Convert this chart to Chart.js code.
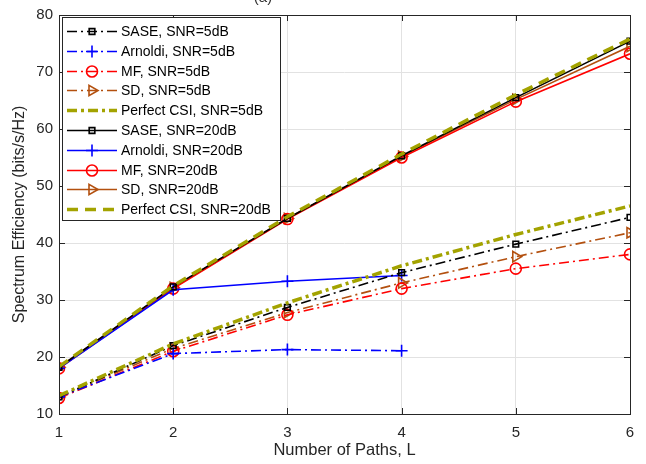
<!DOCTYPE html>
<html lang="en">
  <head>
    <meta charset="UTF-8" />
    <title>Spectrum Efficiency vs Number of Paths</title>
    <style>
      html, body { margin: 0; padding: 0; background: #fff; }
      .wrap { width: 646px; height: 464px; }
    </style>
  </head>
  <body>
    <div class="wrap"><canvas id="chart" width="646" height="464"></canvas></div>
    <script src="https://cdn.jsdelivr.net/npm/chart.js"></script>
    <script>
      // data
      const paths = [1, 2, 3, 4, 5, 6];
      const sase5 = [13.0, 22.0, 28.7, 34.8, 39.8, 44.5];
      const arnoldi5 = [13.0, 20.6, 21.3, 21.1];
      const mf5 = [12.8, 21.0, 27.4, 32.0, 35.5, 38.0];
      const sd5 = [13.0, 21.5, 27.8, 33.0, 37.6, 41.8];
      const perfect5 = [13.2, 22.3, 29.5, 36.0, 41.5, 46.5];
      const sase20 = [18.2, 32.3, 44.3, 55.3, 65.5, 75.4];
      const arnoldi20 = [18.0, 31.8, 33.3, 34.3];
      const mf20 = [18.0, 32.0, 44.2, 55.0, 64.8, 73.2];
      const sd20 = [18.2, 32.2, 44.3, 55.2, 65.2, 74.5];
      const perfect20 = [18.3, 32.5, 44.6, 55.6, 66.0, 75.8];
      const xTicks = [1, 2, 3, 4, 5, 6];
      const yTicks = [10, 20, 30, 40, 50, 60, 70, 80];

      const olive = "#a3a300";
      const brown = "#b3500f";
      const dashDot = [10, 4, 2, 4];
      const font = "'Liberation Sans', Arial, sans-serif";

      function pts(vals) {
        return vals.map((v, i) => ({ x: paths[i], y: v }));
      }

      function ds(label, vals, color, style, opts) {
        return Object.assign(
          {
            label: label,
            data: pts(vals),
            borderColor: color,
            backgroundColor: color,
            borderWidth: 1.6,
            pointStyle: style,
            pointRadius: style ? 4.5 : 0,
            pointBorderColor: color,
            pointBackgroundColor: "rgba(0,0,0,0)",
            pointBorderWidth: 1.6,
            fill: false,
            tension: 0,
          },
          opts || {}
        );
      }

      const datasets = [
        ds("SASE, SNR=5dB", sase5, "#000", "rect", { borderDash: dashDot, pointRadius: 4 }),
        ds("Arnoldi, SNR=5dB", arnoldi5, "#0000ff", "cross", { borderDash: dashDot, pointRadius: 6 }),
        ds("MF, SNR=5dB", mf5, "#ff0000", "circle", { borderDash: dashDot, pointRadius: 5.5 }),
        ds("SD, SNR=5dB", sd5, brown, "triangle", { borderDash: dashDot, pointRotation: 90, pointRadius: 6 }),
        ds("Perfect CSI, SNR=5dB", perfect5, olive, false, { borderDash: [10, 4, 3, 4], borderWidth: 3.5, order: -1 }),
        ds("SASE, SNR=20dB", sase20, "#000", "rect", { pointRadius: 4 }),
        ds("Arnoldi, SNR=20dB", arnoldi20, "#0000ff", "cross", { pointRadius: 6 }),
        ds("MF, SNR=20dB", mf20, "#ff0000", "circle", { pointRadius: 5.5 }),
        ds("SD, SNR=20dB", sd20, brown, "triangle", { pointRotation: 90, pointRadius: 6 }),
        ds("Perfect CSI, SNR=20dB", perfect20, olive, false, { borderDash: [11, 7], borderWidth: 3.5, order: -1 }),
      ];

      // MATLAB-like frame, inward ticks, legend box and clipped title
      const framePlugin = {
        id: "frame",
        afterDraw(chart) {
          const ctx = chart.ctx;
          const a = chart.chartArea;
          const xs = chart.scales.x;
          const ys = chart.scales.y;
          ctx.save();
          ctx.strokeStyle = "#262626";
          ctx.lineWidth = 1;
          ctx.strokeRect(Math.round(a.left) + 0.5, Math.round(a.top) + 0.5,
            Math.round(a.right - a.left), Math.round(a.bottom - a.top));
          ctx.beginPath();
          xTicks.forEach((t) => {
            const px = Math.round(xs.getPixelForValue(t)) + 0.5;
            ctx.moveTo(px, a.bottom);
            ctx.lineTo(px, a.bottom - 6);
            ctx.moveTo(px, a.top);
            ctx.lineTo(px, a.top + 6);
          });
          yTicks.forEach((t) => {
            const py = Math.round(ys.getPixelForValue(t)) + 0.5;
            ctx.moveTo(a.left, py);
            ctx.lineTo(a.left + 6, py);
            ctx.moveTo(a.right, py);
            ctx.lineTo(a.right - 6, py);
          });
          ctx.stroke();

          // title, mostly cut off at the top edge
          ctx.fillStyle = "#333";
          ctx.font = "15px " + font;
          ctx.textAlign = "center";
          ctx.textBaseline = "bottom";
          ctx.fillText("(a)", 263, 5);

          // legend
          const lx = 62, ly = 17, lw = 218, lh = 203;
          ctx.fillStyle = "#fff";
          ctx.fillRect(lx, ly, lw, lh);
          ctx.strokeStyle = "#262626";
          ctx.strokeRect(lx + 0.5, ly + 0.5, lw, lh);
          ctx.font = "14px " + font;
          ctx.textAlign = "left";
          ctx.textBaseline = "middle";
          chart.data.datasets.forEach((d, i) => {
            const y = Math.round(ly + 14 + i * 19.8) + 0.5;
            ctx.save();
            ctx.strokeStyle = d.borderColor;
            ctx.lineWidth = d.borderWidth;
            ctx.setLineDash(d.borderDash || []);
            ctx.beginPath();
            ctx.moveTo(lx + 5, y);
            ctx.lineTo(lx + 55, y);
            ctx.stroke();
            ctx.setLineDash([]);
            if (d.pointStyle) {
              ctx.lineWidth = 1.6;
              ctx.fillStyle = "rgba(0,0,0,0)";
              Chart.helpers.drawPoint(ctx, {
                pointStyle: d.pointStyle,
                rotation: d.pointRotation || 0,
                radius: d.pointRadius,
                borderWidth: 1.6,
              }, lx + 30, y);
            }
            ctx.restore();
            ctx.fillStyle = "#000";
            ctx.fillText(d.label, lx + 59, y + 1);
          });
          ctx.restore();
        },
      };

      const ctx = document.getElementById("chart").getContext("2d");
      new Chart(ctx, {
        type: "line",
        data: { datasets: datasets },
        plugins: [framePlugin],
        options: {
          responsive: false,
          animation: false,
          layout: { padding: { top: 15, right: 16, left: 0, bottom: 0 } },
          plugins: {
            legend: { display: false },
            title: { display: false },
            tooltip: { enabled: false },
          },
          scales: {
            x: {
              type: "linear",
              min: 1,
              max: 6,
              afterBuildTicks: (s) => { s.ticks = xTicks.map((v) => ({ value: v })); },
              afterFit: (s) => { s.height = 50; },
              grid: { color: "#e2e2e2", drawTicks: false },
              border: { display: false },
              ticks: {
                color: "#262626",
                padding: 10,
                font: { family: font, size: 15 },
              },
              title: {
                display: true,
                text: "Number of Paths, L",
                color: "#262626",
                padding: { top: 2 },
                font: { family: font, size: 16.5 },
              },
            },
            y: {
              min: 10,
              max: 80,
              afterBuildTicks: (s) => { s.ticks = yTicks.map((v) => ({ value: v })); },
              afterFit: (s) => { s.width = 59; },
              grid: { color: "#e2e2e2", drawTicks: false },
              border: { display: false },
              ticks: {
                color: "#262626",
                padding: 6,
                font: { family: font, size: 15 },
              },
              title: {
                display: true,
                text: "Spectrum Efficiency (bits/s/Hz)",
                color: "#262626",
                padding: { top: 10, bottom: 0 },
                font: { family: font, size: 16 },
              },
            },
          },
        },
      });
    </script>
  </body>
</html>
